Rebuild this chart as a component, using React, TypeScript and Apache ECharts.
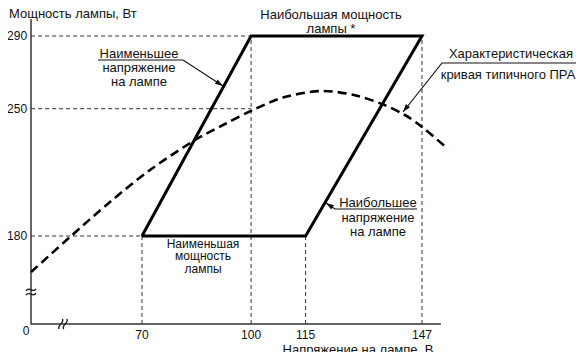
import React, { useEffect, useRef } from "react";
import * as echarts from "echarts";

// Axis ticks
const voltageTicks = [70, 100, 115, 147];
const powerTicks = [180, 250, 290];

// Operating envelope (parallelogram)
const envelopeVoltage = [70, 100, 147, 115, 70];
const envelopePower = [180, 290, 290, 180, 180];

// Typical ballast characteristic curve
const curveVoltage = [39.5, 50.2, 61.2, 72.2, 84.6, 92.8, 100.5, 109.3, 119.75, 128.3, 136.0, 142.3, 147.0, 154.15];
const curvePower = [160.2, 179.45, 198.7, 216.3, 232.8, 241.6, 249.3, 256.45, 259.75, 257.55, 252.6, 246.55, 240.0, 227.85];

// Axis extents (broken axes)
const xMin = 39.5;
const xMax = 156;
const xAxisEnd = 152.2;
const yMin = 131.6;
const yMax = 299;

const FONT = "'Liberation Sans', Arial, Helvetica, sans-serif";
const TXT = "#111";

function zip(a: number[], b: number[]) {
  return a.map((v, i) => [v, b[i]]);
}

function text(x: number, y: number, s: string, size = 13, align = "center") {
  return {
    type: "text",
    x,
    y,
    silent: true,
    style: {
      text: s,
      font: `${size}px ${FONT}`,
      fill: TXT,
      textAlign: align,
      textVerticalAlign: "middle",
    },
  };
}

function leader(points: number[][]) {
  const n = points.length;
  const [x1, y1] = points[n - 2];
  const [x2, y2] = points[n - 1];
  const dx = x2 - x1;
  const dy = y2 - y1;
  const len = Math.hypot(dx, dy);
  const ux = dx / len;
  const uy = dy / len;
  const L = 8;
  const W = 2.6;
  const bx = x2 - ux * L;
  const by = y2 - uy * L;
  return [
    {
      type: "polyline",
      silent: true,
      shape: { points },
      style: { stroke: TXT, lineWidth: 1.2, fill: null },
    },
    {
      type: "polygon",
      silent: true,
      shape: {
        points: [
          [x2, y2],
          [bx - uy * W, by + ux * W],
          [bx + uy * W, by - ux * W],
        ],
      },
      style: { fill: TXT },
    },
  ];
}

// wavy "break" marks on the axes
function breakMarkY(cx: number, cy: number) {
  return [-2.2, 2.2].map((d) => ({
    type: "bezierCurve",
    silent: true,
    z: 10,
    shape: {
      x1: cx - 5, y1: cy + d + 1,
      cpx1: cx - 2, cpy1: cy + d - 4,
      cpx2: cx + 2, cpy2: cy + d + 4,
      x2: cx + 5, y2: cy + d - 1,
    },
    style: { stroke: "#222", lineWidth: 1.4, fill: null },
  }));
}

function breakMarkX(cx: number, cy: number) {
  return [-2.2, 2.2].map((d) => ({
    type: "bezierCurve",
    silent: true,
    z: 10,
    shape: {
      x1: cx + d - 1.5, y1: cy + 5,
      cpx1: cx + d - 4.5, cpy1: cy + 1.5,
      cpx2: cx + d + 4.5, cpy2: cy - 1.5,
      x2: cx + d + 1.5, y2: cy - 5,
    },
    style: { stroke: "#222", lineWidth: 1.4, fill: null },
  }));
}

export default function App() {
  const ref = useRef<HTMLDivElement>(null);

  useEffect(() => {
    if (!ref.current) return;
    const chart = echarts.init(ref.current, null, { renderer: "svg" });

    const guide = (pts: number[][]) => ({
      type: "line",
      data: pts,
      symbol: "none",
      silent: true,
      clip: false,
      lineStyle: { color: "#333", width: 1, type: [4, 3] },
      z: 1,
    });

    const option: any = {
      animation: false,
      backgroundColor: "#fff",
      grid: { left: 31.1, right: 129.3, top: 19.64, bottom: 36, containLabel: false },
      xAxis: {
        type: "value",
        min: xMin,
        max: xMax,
        splitLine: { show: false },
        axisLine: { show: false },
        axisTick: { show: false },
        axisLabel: {
          customValues: voltageTicks,
          margin: 5,
          fontSize: 12,
          fontFamily: FONT,
          color: TXT,
        },
      },
      yAxis: {
        type: "value",
        min: yMin,
        max: yMax,
        splitLine: { show: false },
        axisLine: { show: true, lineStyle: { color: "#333", width: 1.5 } },
        axisTick: { show: false },
        axisLabel: {
          customValues: powerTicks,
          margin: 4,
          fontSize: 12,
          fontFamily: FONT,
          color: TXT,
        },
      },
      series: [
        guide([[xMin, 290], [100, 290]]),
        guide([[xMin, 250], [100, 250]]),
        guide([[xMin, 180], [70, 180]]),
        guide([[70, yMin], [70, 180]]),
        guide([[100, yMin], [100, 290]]),
        guide([[115, yMin], [115, 180]]),
        guide([[147, yMin], [147, 290]]),
        {
          type: "line",
          data: [[xMin, yMin], [xAxisEnd, yMin]],
          symbol: "none",
          silent: true,
          clip: false,
          lineStyle: { color: "#333", width: 1.5 },
          z: 3,
        },
        {
          type: "line",
          data: zip(envelopeVoltage, envelopePower),
          symbol: "none",
          silent: true,
          clip: false,
          lineStyle: { color: "#000", width: 3, join: "miter" },
          z: 5,
        },
        {
          type: "line",
          data: zip(curveVoltage, curvePower),
          symbol: "none",
          smooth: 0.3,
          silent: true,
          clip: false,
          lineStyle: { color: "#000", width: 2.6, type: [9, 5] },
          z: 4,
        },
      ],
      graphic: [
        text(9, 13, "Мощность лампы, Вт", 13, "left"),
        text(26, 331, "0", 12),
        text(358, 349, "Напряжение на лампе, В", 13),
        ...breakMarkY(31, 292),
        ...breakMarkX(63, 324),
        // labels
        text(139, 53, "Наименьшее"),
        text(139, 67, "напряжение"),
        text(139, 81, "на лампе"),
        ...leader([[98, 60], [183, 60], [223, 86]]),

        text(331, 14, "Наибольшая мощность"),
        text(331, 28, "лампы *"),

        text(511, 53, "Характеристическая"),
        text(508, 74, "кривая типичного ПРА"),
        ...leader([[584, 63], [442, 63], [403, 112]]),

        text(378, 202, "Наибольшее"),
        text(378, 217, "напряжение"),
        text(378, 231, "на лампе"),
        ...leader([[417, 209], [335, 209], [326, 203]]),

        text(203, 243.5, "Наименьшая", 12),
        text(203, 256, "мощность", 12),
        text(203, 268.5, "лампы", 12),
      ],
    };

    chart.setOption(option);
    return () => chart.dispose();
  }, []);

  return <div ref={ref} style={{ width: 584, height: 360, margin: -8 }} />;
}
